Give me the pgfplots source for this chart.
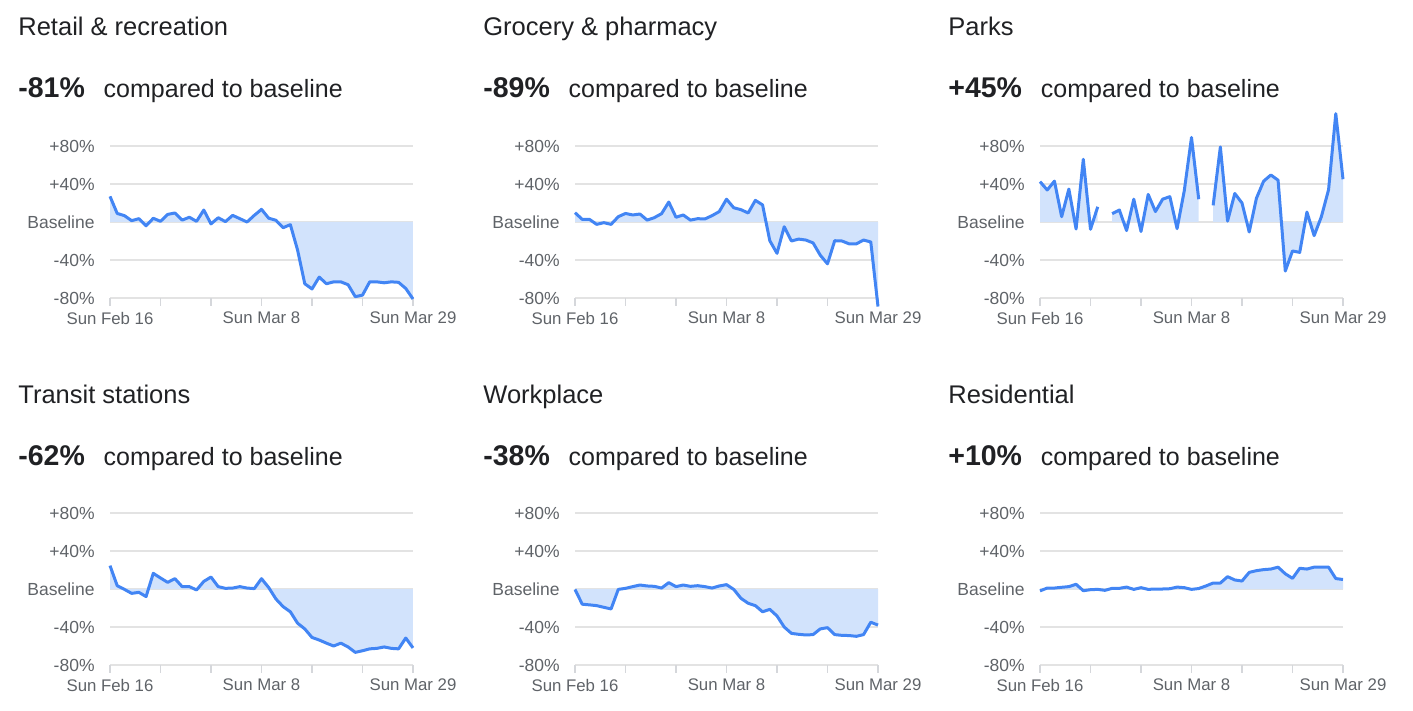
\documentclass[border=0pt]{standalone}
\usepackage{fontspec}
\setmainfont{Liberation Sans}
\usepackage{pgfplots}
\pgfplotsset{compat=1.18}
\usepackage{pgfplotstable}
\usepgfplotslibrary{fillbetween}

\definecolor{gblue}{HTML}{4285F4}
\definecolor{gfill}{HTML}{D2E3FC}
\definecolor{ggrid}{HTML}{E3E3E3}
\definecolor{gaxis}{HTML}{D5D7DB}
\definecolor{gtext}{HTML}{202124}
\definecolor{gtick}{HTML}{5F6368}

\pgfplotstableread[row sep=\\]{d v\\ 0 27\\ 1 9\\ 2 6.7\\ 3 1.4\\ 4 3.5\\ 5 -4\\ 6 3.9\\ 7 0.7\\ 8 8\\ 9 9.5\\ 10 2\\ 11 5\\ 12 0.7\\ 13 12.6\\ 14 -2\\ 15 4.5\\ 16 0.4\\ 17 7\\ 18 3.5\\ 19 0\\ 20 7\\ 21 13.3\\ 22 4\\ 23 1.8\\ 24 -6\\ 25 -2.8\\ 26 -29.5\\ 27 -65\\ 28 -70.5\\ 29 -58\\ 30 -65\\ 31 -63\\ 32 -63\\ 33 -66\\ 34 -78.6\\ 35 -77\\ 36 -63\\ 37 -63\\ 38 -64\\ 39 -63\\ 40 -63.5\\ 41 -70\\ 42 -81\\}\retail

\pgfplotstableread[row sep=\\]{d v\\ 0 9.8\\ 1 2.8\\ 2 2.8\\ 3 -2.5\\ 4 -0.7\\ 5 -2.5\\ 6 5.6\\ 7 9\\ 8 7.4\\ 9 8.4\\ 10 2\\ 11 4.6\\ 12 8.8\\ 13 21\\ 14 5\\ 15 7.4\\ 16 2\\ 17 3.5\\ 18 3.2\\ 19 6.7\\ 20 11\\ 21 24\\ 22 15\\ 23 13\\ 24 9.5\\ 25 22.8\\ 26 18\\ 27 -19.7\\ 28 -33\\ 29 -5\\ 30 -20\\ 31 -18\\ 32 -19\\ 33 -22\\ 34 -35\\ 35 -44\\ 36 -19.7\\ 37 -20\\ 38 -23\\ 39 -23\\ 40 -19\\ 41 -21\\ 42 -89\\}\grocery

\pgfplotstableread[row sep=\\]{d v\\ 0 42.5\\ 1 33.7\\ 2 43\\ 3 5.6\\ 4 34.7\\ 5 -7.4\\ 6 66\\ 7 -7.7\\ 8 16\\}\parksA
\pgfplotstableread[row sep=\\]{d v\\ 10 8.8\\ 11 12.6\\ 12 -9\\ 13 24\\ 14 -10\\ 15 29\\ 16 11\\ 17 24\\ 18 26.7\\ 19 -7\\ 20 33\\ 21 89\\ 22 24\\}\parksB
\pgfplotstableread[row sep=\\]{d v\\ 24 17.5\\ 25 79\\ 26 1\\ 27 30\\ 28 20\\ 29 -10.5\\ 30 25\\ 31 43\\ 32 49.5\\ 33 44\\ 34 -51.6\\ 35 -30.5\\ 36 -32\\ 37 10.5\\ 38 -14.4\\ 39 5.6\\ 40 34\\ 41 114\\ 42 45\\}\parksC

\pgfplotstableread[row sep=\\]{d v\\ 0 24.6\\ 1 3.5\\ 2 -0.4\\ 3 -4.6\\ 4 -3.5\\ 5 -8\\ 6 16.5\\ 7 11.6\\ 8 7\\ 9 10.9\\ 10 2.5\\ 11 2.5\\ 12 -1\\ 13 8\\ 14 12.6\\ 15 2.5\\ 16 0.7\\ 17 1\\ 18 2.5\\ 19 1\\ 20 0.4\\ 21 10.9\\ 22 1.5\\ 23 -10.5\\ 24 -18.6\\ 25 -24\\ 26 -36\\ 27 -42\\ 28 -51\\ 29 -53.7\\ 30 -57\\ 31 -60\\ 32 -57\\ 33 -61\\ 34 -66.7\\ 35 -65\\ 36 -63\\ 37 -62.5\\ 38 -61\\ 39 -62.5\\ 40 -63\\ 41 -51.6\\ 42 -62\\}\transit

\pgfplotstableread[row sep=\\]{d v\\ 0 -0.4\\ 1 -16\\ 2 -16.7\\ 3 -17.5\\ 4 -19.3\\ 5 -21\\ 6 -0.4\\ 7 0.7\\ 8 2.5\\ 9 4.2\\ 10 3.2\\ 11 2.8\\ 12 1\\ 13 6.7\\ 14 2.5\\ 15 4.2\\ 16 2.8\\ 17 3.5\\ 18 2.5\\ 19 1\\ 20 3.2\\ 21 4.6\\ 22 -0.4\\ 23 -9.8\\ 24 -15\\ 25 -17.5\\ 26 -24\\ 27 -21.4\\ 28 -28.4\\ 29 -40\\ 30 -46.7\\ 31 -47.7\\ 32 -48.4\\ 33 -48\\ 34 -42\\ 35 -40.7\\ 36 -48\\ 37 -48.8\\ 38 -49\\ 39 -49.8\\ 40 -48\\ 41 -35\\ 42 -38\\}\workplace

\pgfplotstableread[row sep=\\]{d v\\ 0 -2\\ 1 1\\ 2 1\\ 3 1.8\\ 4 2.5\\ 5 5\\ 6 -1.8\\ 7 -0.7\\ 8 -0.4\\ 9 -1.4\\ 10 0.7\\ 11 0.7\\ 12 2\\ 13 -0.4\\ 14 1.4\\ 15 -0.4\\ 16 0\\ 17 0\\ 18 0.3\\ 19 2\\ 20 1.4\\ 21 -0.4\\ 22 0.5\\ 23 3.2\\ 24 6.3\\ 25 6.3\\ 26 13\\ 27 9.5\\ 28 8.4\\ 29 17.5\\ 30 19.3\\ 31 20.4\\ 32 21\\ 33 23\\ 34 16\\ 35 11.2\\ 36 21.8\\ 37 21\\ 38 23\\ 39 23\\ 40 23\\ 41 11\\ 42 10\\}\residential

\pgfplotsset{
  panel/.style={
    scale only axis, width=151.5pt, height=76pt,
    anchor=south west,
    xmin=0, xmax=42, ymin=-80, ymax=80,
    axis line style={draw=none},
    xtick={0,21,42}, xticklabels={Sun Feb 16,Sun Mar 8,Sun Mar 29},
    minor xtick={7,14,28,35},
    xtick pos=left, xtick align=outside,
    major tick length=3.75pt, minor tick length=3.75pt,
    xtick style={draw=gaxis, line width=0.75pt},
    minor x tick style={draw=gaxis, line width=0.75pt},
    ytick={-80,-40,0,40,80},
    yticklabels={-80\%,-40\%,Baseline,+40\%,+80\%},
    ytick pos=left,
    ytick style={draw=none},
    ymajorgrids, grid style={ggrid, line width=0.75pt},
    tick label style={text=gtick},
    yticklabel style={font=\fontsize{8.75}{10}\selectfont, anchor=east, inner sep=0pt, xshift=-7.5pt},
    xticklabel style={font=\fontsize{8.4}{10}\selectfont, anchor=north, inner sep=0pt, yshift=-3pt},
    clip=false,
  },
  ln/.style={gblue, line width=1.5pt, line join=round, no marks},
}

\newcommand{\paneltext}[4]{% x, y(title baseline), title, pct
  \node[anchor=base west, inner sep=0pt, text=gtext, font=\fontsize{12.75}{15}\selectfont] at (#1,#2) {#3};
  \node[anchor=base west, inner sep=0pt, text=gtext, font=\fontsize{14.25}{17}\selectfont\bfseries] (p) at (#1,{#2-31pt}) {#4};
  \node[anchor=base west, inner sep=0pt, text=gtext, font=\fontsize{12.5}{15}\selectfont] at ([xshift=9pt]p.base east) {compared to baseline};
}

\begin{document}
\begin{tikzpicture}
\path (0,0) rectangle (706.5pt,-355.5pt);

\paneltext{9pt}{-18pt}{Retail \& recreation}{-81\%}
\paneltext{241.5pt}{-18pt}{Grocery \& pharmacy}{-89\%}
\paneltext{474pt}{-18pt}{Parks}{+45\%}
\paneltext{9pt}{-201.5pt}{Transit stations}{-62\%}
\paneltext{241.5pt}{-201.5pt}{Workplace}{-38\%}
\paneltext{474pt}{-201.5pt}{Residential}{+10\%}

% Row 1
\begin{axis}[panel, at={(55pt,-149pt)}]
  \addplot[ln, name path=L1] table[x=d,y=v]{\retail};
  \path[name path=Z1] (axis cs:0,0) -- (axis cs:42,0);
  \addplot[gfill] fill between[of=L1 and Z1];
\end{axis}

\begin{axis}[panel, at={(287.5pt,-149pt)}]
  \addplot[ln, name path=L2] table[x=d,y=v]{\grocery};
  \path[name path=Z2] (axis cs:0,0) -- (axis cs:42,0);
  \addplot[gfill] fill between[of=L2 and Z2];
\end{axis}

\begin{axis}[panel, at={(520pt,-149pt)}]
  \addplot[ln, name path=L3a] table[x=d,y=v]{\parksA};
  \path[name path=Z3a] (axis cs:0,0) -- (axis cs:8,0);
  \addplot[gfill] fill between[of=L3a and Z3a];
  \addplot[ln, name path=L3b] table[x=d,y=v]{\parksB};
  \path[name path=Z3b] (axis cs:10,0) -- (axis cs:22,0);
  \addplot[gfill] fill between[of=L3b and Z3b];
  \addplot[ln, name path=L3c] table[x=d,y=v]{\parksC};
  \path[name path=Z3c] (axis cs:24,0) -- (axis cs:42,0);
  \addplot[gfill] fill between[of=L3c and Z3c];
\end{axis}

% Row 2
\begin{axis}[panel, at={(55pt,-332.5pt)}]
  \addplot[ln, name path=L4] table[x=d,y=v]{\transit};
  \path[name path=Z4] (axis cs:0,0) -- (axis cs:42,0);
  \addplot[gfill] fill between[of=L4 and Z4];
\end{axis}

\begin{axis}[panel, at={(287.5pt,-332.5pt)}]
  \addplot[ln, name path=L5] table[x=d,y=v]{\workplace};
  \path[name path=Z5] (axis cs:0,0) -- (axis cs:42,0);
  \addplot[gfill] fill between[of=L5 and Z5];
\end{axis}

\begin{axis}[panel, at={(520pt,-332.5pt)}]
  \addplot[ln, name path=L6] table[x=d,y=v]{\residential};
  \path[name path=Z6] (axis cs:0,0) -- (axis cs:42,0);
  \addplot[gfill] fill between[of=L6 and Z6];
\end{axis}
\end{tikzpicture}
\end{document}
